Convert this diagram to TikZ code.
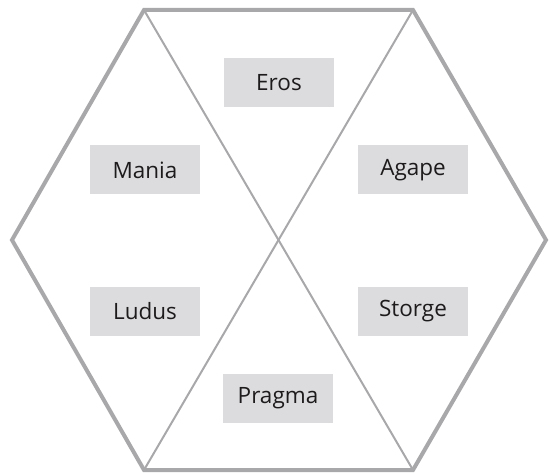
\documentclass[tikz,border=0pt]{standalone}
\usepackage{fontspec}
\setmainfont{Open Sans}
\definecolor{hexgray}{RGB}{168,168,170}
\definecolor{boxgray}{RGB}{220,220,222}
\definecolor{txt}{RGB}{30,27,28}
\begin{document}
\begin{tikzpicture}[x=1pt,y=-1pt,
  lbl/.style={fill=boxgray,minimum width=110pt,minimum height=49pt,inner sep=0pt,text=txt,font=\fontsize{22.5}{26}\selectfont},
  outer/.style={draw=hexgray,line width=4pt,line join=miter},
  inner/.style={draw=hexgray,line width=2pt}]
\useasboundingbox (0,0) rectangle (549,473);
\coordinate (tl) at (144,10);
\coordinate (tr) at (413,10);
\coordinate (r) at (546,240);
\coordinate (br) at (413,470);
\coordinate (bl) at (144,470);
\coordinate (l) at (12,240);
\draw[inner] (tl) -- (br);
\draw[inner] (tr) -- (bl);
\draw[outer] (tl) -- (tr) -- (r) -- (br) -- (bl) -- (l) -- cycle;
\node[lbl] (eros) at (279,83) {Eros};
\node[lbl] (mania) at (145,170) {Mania};
\node[lbl] (agape) at (413,170) {Agape};
\node[lbl] (ludus) at (145,311) {Ludus};
\node[lbl] (storge) at (413,311) {Storge};
\node[lbl] (pragma) at (278,398) {Pragma};
\end{tikzpicture}
\end{document}
